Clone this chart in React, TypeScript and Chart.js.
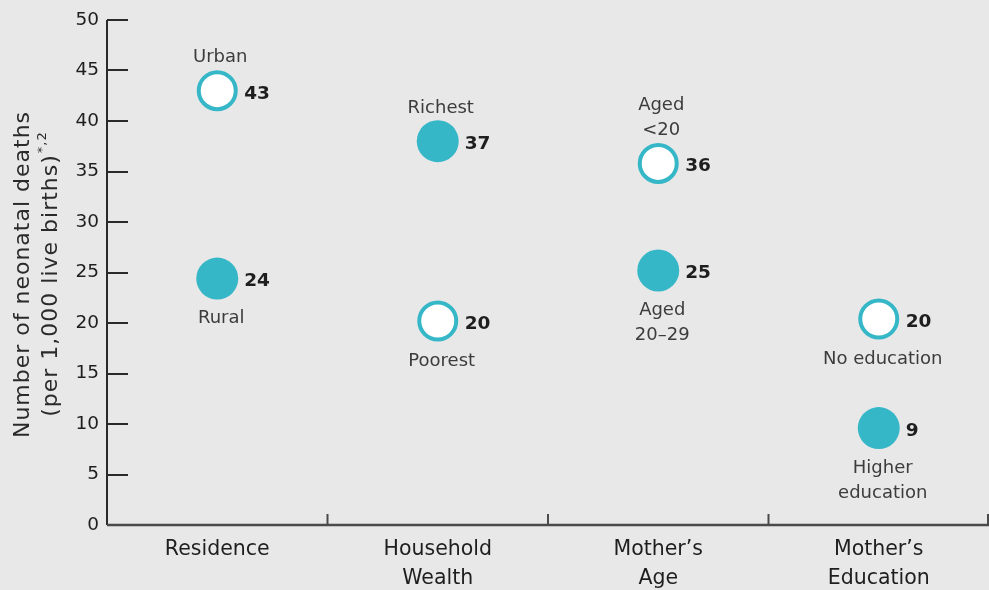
import React, { useEffect, useRef } from 'react';
import { Chart, registerables } from 'chart.js';

Chart.register(...registerables);

// ---- data ----
const categories: string[][] = [
  ['Residence'],
  ['Household', 'Wealth'],
  ['Mother’s', 'Age'],
  ['Mother’s', 'Education'],
];

// hollow (white) markers
const hollowValues = [43, 20.2, 35.8, 20.4];
const hollowValueLabels = ['43', '20', '36', '20'];
const hollowNames: string[][] = [['Urban'], ['Poorest'], ['Aged', '<20'], ['No education']];
const hollowPlacement = ['above', 'below', 'above', 'below'];

// filled (teal) markers
const filledValues = [24.4, 38, 25.2, 9.6];
const filledValueLabels = ['24', '37', '25', '9'];
const filledNames: string[][] = [['Rural'], ['Richest'], ['Aged', '20–29'], ['Higher', 'education']];
const filledPlacement = ['below', 'above', 'below', 'below'];

const yMin = 0;
const yMax = 50;
const yStep = 5;

const yTitleLine1 = 'Number of neonatal deaths';
const yTitleLine2 = '(per 1,000 live births)';
const yTitleSup = '*,2';

// ---- style ----
const BG = '#e8e8e9';
const TEAL = '#36b7c7';
const FONT = "'DejaVu Sans', sans-serif";

const decorPlugin = {
  id: 'decor',
  beforeDraw(chart: any) {
    const { ctx, width, height } = chart;
    ctx.save();
    ctx.fillStyle = BG;
    ctx.fillRect(0, 0, width, height);
    ctx.restore();
  },
  beforeDatasetsDraw(chart: any) {
    const { ctx, chartArea, scales } = chart;
    const x = scales.x;
    const y = scales.y;
    ctx.save();
    // y axis line
    ctx.strokeStyle = '#2a2a2a';
    ctx.lineWidth = 2;
    ctx.beginPath();
    ctx.moveTo(chartArea.left, chartArea.top);
    ctx.lineTo(chartArea.left, chartArea.bottom);
    ctx.stroke();
    // y ticks (inward)
    for (let v = yMin; v <= yMax; v += yStep) {
      const py = Math.round(y.getPixelForValue(v));
      ctx.beginPath();
      ctx.moveTo(chartArea.left, py);
      ctx.lineTo(chartArea.left + 21, py);
      ctx.stroke();
    }
    // x axis line
    ctx.strokeStyle = '#4a4a4a';
    ctx.lineWidth = 2.5;
    ctx.beginPath();
    ctx.moveTo(chartArea.left, chartArea.bottom);
    ctx.lineTo(chartArea.right, chartArea.bottom);
    ctx.stroke();
    // x separators between categories
    ctx.lineWidth = 2;
    const n = categories.length;
    for (let i = 0; i < n; i++) {
      let px: number;
      if (i < n - 1) px = (x.getPixelForTick(i) + x.getPixelForTick(i + 1)) / 2;
      else px = chartArea.right - 1;
      ctx.beginPath();
      ctx.moveTo(px, chartArea.bottom);
      ctx.lineTo(px, chartArea.bottom - 11);
      ctx.stroke();
    }
    ctx.restore();

    // y axis title
    ctx.save();
    const cy = (chartArea.top + chartArea.bottom) / 2 + 2;
    ctx.translate(23, cy);
    ctx.rotate(-Math.PI / 2);
    ctx.fillStyle = '#2a2a2a';
    (ctx as any).letterSpacing = '1px';
    ctx.font = `22px ${FONT}`;
    ctx.textAlign = 'center';
    ctx.textBaseline = 'middle';
    ctx.fillText(yTitleLine1, 0, 0);
    const w2 = ctx.measureText(yTitleLine2).width;
    ctx.font = `13px ${FONT}`;
    const ws = ctx.measureText(yTitleSup).width;
    const start = -(w2 + ws) / 2;
    ctx.textAlign = 'left';
    ctx.font = `22px ${FONT}`;
    ctx.fillText(yTitleLine2, start, 28);
    ctx.font = `13px ${FONT}`;
    ctx.fillText(yTitleSup, start + w2 + 1, 20);
    (ctx as any).letterSpacing = '0px';
    ctx.restore();
  },
  afterDatasetsDraw(chart: any) {
    const { ctx } = chart;
    const groups = [
      { ds: 0, values: hollowValueLabels, names: hollowNames, place: hollowPlacement },
      { ds: 1, values: filledValueLabels, names: filledNames, place: filledPlacement },
    ];
    ctx.save();
    ctx.textBaseline = 'middle';
    for (const g of groups) {
      const meta = chart.getDatasetMeta(g.ds);
      meta.data.forEach((pt: any, i: number) => {
        const px = pt.x;
        const py = pt.y;
        // value label
        ctx.font = `bold 18.5px ${FONT}`;
        ctx.fillStyle = '#1e1e1e';
        ctx.textAlign = 'left';
        ctx.fillText(g.values[i], px + 27, py + 3);
        // name label
        ctx.font = `18px ${FONT}`;
        ctx.fillStyle = '#3c3c3c';
        ctx.textAlign = 'center';
        const lines = g.names[i];
        const lh = 25;
        if (g.place[i] === 'above') {
          lines.forEach((t, k) => {
            const yy = py - 33 - (lines.length - 1 - k) * lh;
            ctx.fillText(t, px + 3, yy);
          });
        } else {
          lines.forEach((t, k) => {
            const yy = py + 40 + k * lh;
            ctx.fillText(t, px + 4, yy);
          });
        }
      });
    }
    ctx.restore();
  },
};

export default function App() {
  const ref = useRef<HTMLCanvasElement | null>(null);

  useEffect(() => {
    document.body.style.margin = '0';
    document.body.style.background = BG;
    const canvas = ref.current;
    if (!canvas) return;
    Chart.defaults.font.family = FONT;
    const chart = new Chart(canvas, {
      type: 'line',
      data: {
        labels: categories as any,
        datasets: [
          {
            label: 'hollow',
            data: hollowValues,
            showLine: false,
            pointRadius: 18.5,
            pointHoverRadius: 18.5,
            pointBackgroundColor: '#ffffff',
            pointBorderColor: TEAL,
            pointBorderWidth: 4,
            pointHoverBorderWidth: 4,
          },
          {
            label: 'filled',
            data: filledValues,
            showLine: false,
            pointRadius: 21,
            pointHoverRadius: 21,
            pointBackgroundColor: TEAL,
            pointBorderColor: TEAL,
            pointBorderWidth: 0,
          },
        ],
      },
      options: {
        animation: false,
        responsive: false,
        devicePixelRatio: 1,
        events: [],
        layout: { autoPadding: false, padding: { top: 20, right: 0, left: 0, bottom: 0 } },
        plugins: {
          legend: { display: false },
          tooltip: { enabled: false },
          title: { display: false },
        },
        scales: {
          x: {
            type: 'category',
            offset: true,
            grid: { display: false, drawTicks: false },
            border: { display: false },
            ticks: {
              color: '#1e1e1e',
              font: { size: 20.5, lineHeight: 1.42 },
              padding: 10,
              maxRotation: 0,
              autoSkip: false,
            },
            afterFit(scale: any) {
              scale.height = 65;
              scale.paddingLeft = 0;
              scale.paddingRight = 0;
            },
          },
          y: {
            min: yMin,
            max: yMax,
            grid: { display: false, drawTicks: false },
            border: { display: false },
            ticks: {
              stepSize: yStep,
              color: '#1e1e1e',
              font: { size: 18.5 },
              padding: 8,
            },
            afterFit(scale: any) {
              scale.width = 107;
            },
          },
        },
      },
      plugins: [decorPlugin],
    } as any);
    return () => chart.destroy();
  }, []);

  return (
    <div style={{ width: 989, height: 590, background: BG }}>
      <canvas ref={ref} width={989} height={590} />
    </div>
  );
}
